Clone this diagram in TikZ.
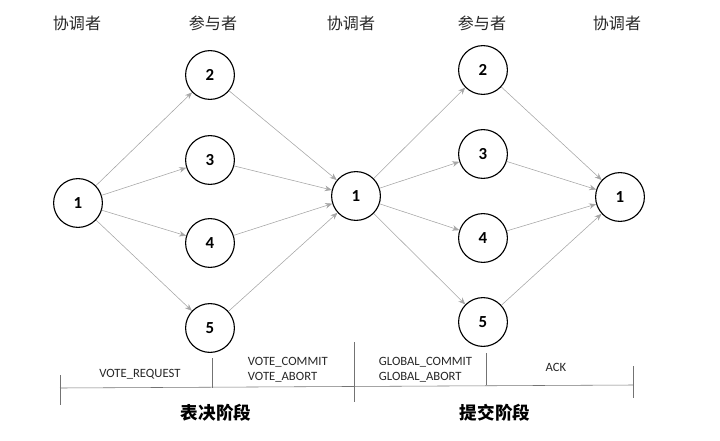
\documentclass[tikz,border=0pt]{standalone}
\usepackage{fontspec}
\setmainfont{Carlito}
\newfontfamily\cjk{Noto Sans CJK SC}
\usetikzlibrary{arrows.meta, positioning}

\begin{document}
\begin{tikzpicture}[
    x=0.025cm, y=-0.025cm,
    every node/.style={font=\fontsize{9}{11}\selectfont},
    role/.style={font=\cjk\fontsize{11.4}{14}\selectfont, text=black!85},
    peer/.style={draw, thick, circle, minimum size=1.22cm, inner sep=0pt,
        font=\fontsize{12}{14}\selectfont\bfseries},
    msg/.style={-{Stealth[length=5pt, width=4pt]}, black!35, thin},
    tick/.style={black!55, thin},
    tag/.style={align=left, anchor=west, text=black!85},
    phase/.style={font=\cjk\fontsize{12.5}{15}\selectfont\bfseries}
]

    \useasboundingbox (0,0) rectangle (720,440);

    % --- header row ---
    \foreach \x/\name [count=\k] in {77/协调者, 213/参与者, 351/协调者, 482/参与者, 617/协调者}
        \node[role] (head-\k) at (\x, 23) {\name};

    % --- coordinators ---
    \node[peer] (C0) at (78, 203) {1};
    \node[peer] (C1) at (356, 196) {1};
    \node[peer] (C2) at (620, 197) {1};

    % --- participants ---
    \foreach \i/\y in {2/75, 3/160, 4/243, 5/328}
        \node[peer] (A\i) at (210, \y) {\i};
    \foreach \i/\y in {2/70, 3/154, 4/238, 5/322}
        \node[peer] (B\i) at (483, \y) {\i};

    % --- messages ---
    \foreach \i in {2,...,5} {
        \draw[msg] (C0) -- (A\i);
        \draw[msg] (A\i) -- (C1);
        \draw[msg] (C1) -- (B\i);
        \draw[msg] (B\i) -- (C2);
    }

    % --- time line ---
    \coordinate (L0) at (60, 388);
    \coordinate (L4) at (633, 385);
    \draw[tick] (L0) -- (L4);
    \draw[tick] (60, 375) -- (60, 405);
    \draw[tick] (212, 358) -- (212, 388);
    \draw[tick] (354, 342) -- (354, 402);
    \draw[tick] (486, 353) -- (486, 385);
    \draw[tick] (633, 366) -- (633, 398);

    \node[text=black!85] (vreq) at (140, 374) {VOTE\_REQUEST};
    \node[tag] (vres) at (243, 370) {VOTE\_COMMIT\\VOTE\_ABORT};
    \node[tag] (gres) at (374, 370) {GLOBAL\_COMMIT\\GLOBAL\_ABORT};
    \node[text=black!85] (ack) at (556, 367) {ACK};

    \node[phase] (vote) at (216, 413) {表决阶段};
    \node[phase] (commit) at (495, 413) {提交阶段};

\end{tikzpicture}
\end{document}
